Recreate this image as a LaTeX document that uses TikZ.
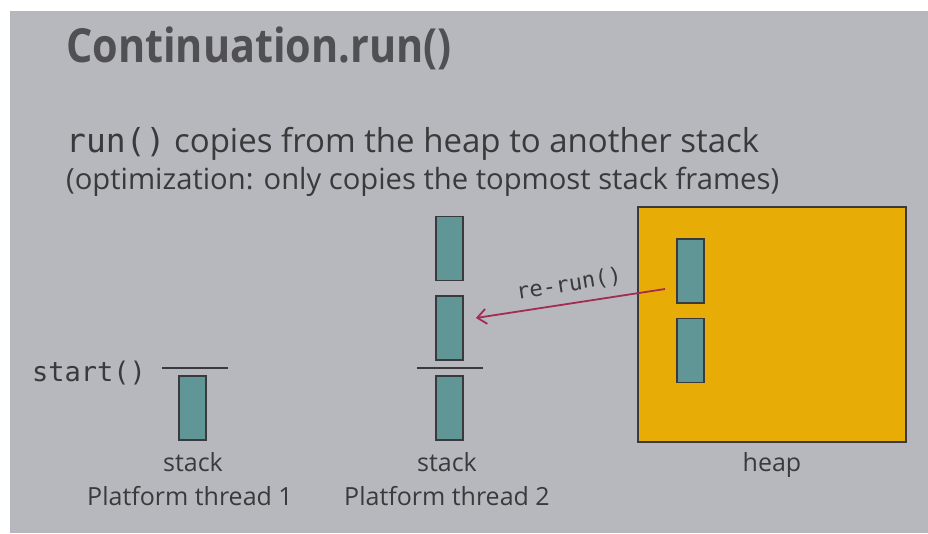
\documentclass[tikz,border=0pt]{standalone}
\usepackage{fontspec}
\setmainfont{Open Sans}
\setmonofont{DejaVu Sans Mono}
\usetikzlibrary{arrows.meta}
\definecolor{slidebg}{RGB}{183,183,190}
\definecolor{ink}{RGB}{58,58,60}
\definecolor{titleink}{RGB}{80,80,84}
\definecolor{frame}{RGB}{96,150,150}
\definecolor{heapfill}{RGB}{232,172,6}
\definecolor{arrowc}{RGB}{164,44,80}
\tikzset{
  frm/.style={draw=ink, line width=1.8pt, fill=frame, minimum width=27pt, minimum height=64pt, inner sep=0pt},
  lbl/.style={text=ink, inner sep=0pt, anchor=base},
  captext/.style={lbl, font=\fontsize{25}{28}\selectfont},
  divider/.style={draw=ink, line width=1.8pt},
}
\begin{document}
\begin{tikzpicture}[x=1pt, y=-1pt]
\useasboundingbox (0,0) rectangle (928,533);
\fill[white] (0,0) rectangle (928,533);
\fill[slidebg] (10,11) rectangle (928,533);

% title and subtitle
\node[lbl, anchor=base west, text=titleink, font=\bfseries\fontsize{47}{50}\selectfont] (title) at (66,62) {\scalebox{0.88}[1]{Continuation.run()}};
\node[lbl, anchor=base west, font=\fontsize{33}{36}\selectfont] (line1) at (66,152) {\texttt{run()} copies from the heap to another stack};
\node[lbl, anchor=base west, font=\fontsize{29.2}{32}\selectfont] (line2) at (66,189) {(optimization: only copies the topmost stack frames)};

% platform thread 1
\draw[divider] (162,368) coordinate (d1a) -- (228,368) coordinate (d1b);
\node[frm] (s1) at (192.5,408) {};
\node[lbl, anchor=base east, font=\ttfamily\fontsize{27}{30}\selectfont] (start) at (146,381) {start()};
\node[captext] (st1) at (193,471) {stack};
\node[captext] (pt1) at (190,505) {Platform thread 1};

% platform thread 2
\node[frm] (s2a) at (449.5,248.5) {};
\node[frm] (s2b) at (449.5,328) {};
\draw[divider] (417,368) coordinate (d2a) -- (483,368) coordinate (d2b);
\node[frm] (s2c) at (449.5,408) {};
\node[captext] (st2) at (447,471) {stack};
\node[captext] (pt2) at (447,505) {Platform thread 2};

% heap
\node[draw=ink, line width=1.8pt, fill=heapfill, minimum width=268pt, minimum height=235pt, inner sep=0pt] (heap) at (772,324.5) {};
\node[frm] (h1) at (690.5,271) {};
\node[frm] (h2) at (690.5,350.5) {};
\node[captext] (heaplbl) at (772,471) {heap};

% re-run arrow
\coordinate (ra) at (665,289);
\draw[arrowc, line width=1.8pt, -{Straight Barb[length=9pt,width=15pt,line width=1.8pt]}] (ra) -- ([xshift=12pt]s2b.east |- 0,318) coordinate (rb);
\node[lbl, anchor=base, rotate=8.8, font=\ttfamily\fontsize{22}{25}\selectfont] (rerun) at (570,291) {re-run()};
\end{tikzpicture}
\end{document}
